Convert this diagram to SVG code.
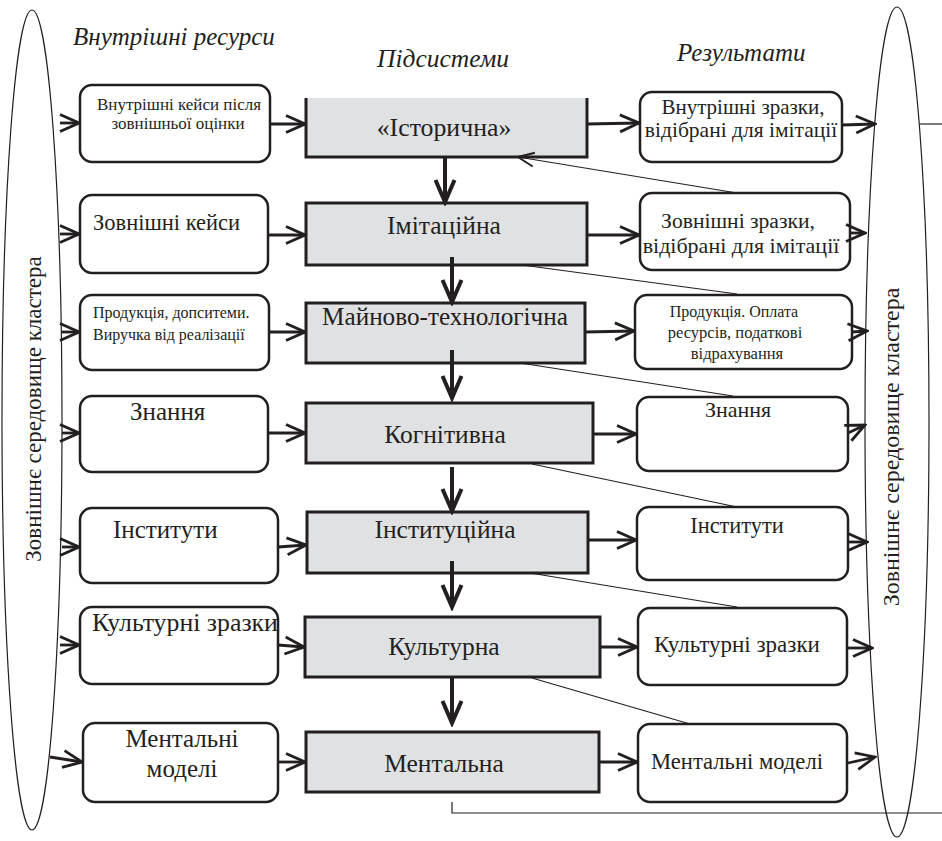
<svg xmlns="http://www.w3.org/2000/svg" width="942" height="841" viewBox="0 0 942 841">
<style>
.t{font-family:"Liberation Serif","Times New Roman",serif;fill:#231f20}
.it{font-style:italic}
.m{text-anchor:middle}
.rb{fill:#fff;stroke:#231f20;stroke-width:2.5}
.sb{fill:#e0e1e3;stroke:#231f20;stroke-width:3}
.ar{fill:none;stroke:#231f20;stroke-width:2.8;marker-end:url(#ah)}
.va{fill:none;stroke:#231f20;stroke-width:4;marker-end:url(#vh)}
.thin{fill:none;stroke:#231f20;stroke-width:1.2}
.fb{fill:none;stroke:#231f20;stroke-width:1.2;marker-end:url(#fh)}
.ell{fill:none;stroke:#231f20;stroke-width:1.2}
</style>
<defs>
<marker id="ah" viewBox="-24 -12 26 24" refX="0" refY="0" markerWidth="26" markerHeight="24" markerUnits="userSpaceOnUse" orient="auto">
<path d="M-19,-8.5 L0,0 L-19,8.5" fill="none" stroke="#231f20" stroke-width="2.8"/>
</marker>
<marker id="vh" viewBox="-26 -12 30 24" refX="0" refY="0" markerWidth="30" markerHeight="24" markerUnits="userSpaceOnUse" orient="auto">
<path d="M-22,-9.5 L0,0 L-22,9.5" fill="none" stroke="#231f20" stroke-width="4"/>
</marker>
<marker id="fh" viewBox="-20 -10 22 20" refX="0" refY="0" markerWidth="22" markerHeight="20" markerUnits="userSpaceOnUse" orient="auto">
<path d="M-16,-7 L0,0 L-16,7" fill="none" stroke="#231f20" stroke-width="2"/>
</marker>
</defs>
<rect width="942" height="841" fill="#fff"/>

<g id="env-left">
<ellipse class="ell" cx="32" cy="420" rx="30" ry="410"/>
<text class="t m" font-size="23" transform="translate(41,409) rotate(-90)">Зовнішнє середовище кластера</text>
</g>
<g id="env-right">
<ellipse class="ell" cx="897" cy="422" rx="32" ry="415"/>
<text class="t m" font-size="24" transform="translate(899,447) rotate(-90)">Зовнішнє середовище кластера</text>
</g>

<g id="titles">
<text class="t it" font-size="25" x="73" y="45">Внутрішні ресурси</text>
<text class="t it" font-size="25.5" x="377" y="67">Підсистеми</text>
<text class="t it" font-size="25" x="677" y="61">Результати</text>
</g>

<g id="in1"><rect class="rb" x="80" y="85" width="190" height="77" rx="12"/>
<text class="t m" font-size="17" x="179" y="110">Внутрішні кейси після</text>
<text class="t m" font-size="17" x="178" y="129">зовнішньої оцінки</text></g>
<g id="in2"><rect class="rb" x="80" y="195" width="188" height="78" rx="12"/>
<text class="t" font-size="22.5" x="93" y="230">Зовнішні кейси</text></g>
<g id="in3"><rect class="rb" x="80" y="295" width="189" height="75" rx="12"/>
<text class="t" font-size="16" x="93" y="318">Продукція, допситеми.</text>
<text class="t" font-size="16" x="93" y="340">Виручка від реалізації</text></g>
<g id="in4"><rect class="rb" x="80" y="396" width="188" height="76" rx="12"/>
<text class="t" font-size="25" x="130" y="420">Знання</text></g>
<g id="in5"><rect class="rb" x="80" y="508" width="198" height="75" rx="12"/>
<text class="t" font-size="25" x="113" y="538">Інститути</text></g>
<g id="in6"><rect class="rb" x="80" y="607" width="198" height="77" rx="12"/>
<text class="t" font-size="25.8" x="92" y="631">Культурні зразки</text></g>
<g id="in7"><rect class="rb" x="83" y="723" width="195" height="79" rx="12"/>
<text class="t m" font-size="25" x="182" y="747">Ментальні</text>
<text class="t m" font-size="25" x="182" y="777">моделі</text></g>

<g id="sub1"><rect x="306" y="98" width="281" height="59" fill="#e0e1e3"/>
<path d="M306,98 V157 H587 V98" fill="none" stroke="#231f20" stroke-width="3"/>
<text class="t m" font-size="25.8" x="444" y="136">«Історична»</text></g>
<g id="sub2"><rect class="sb" x="306" y="203" width="281" height="62"/>
<text class="t m" font-size="25.5" x="444" y="234">Імітаційна</text></g>
<g id="sub3"><rect class="sb" x="306" y="303" width="279" height="60"/>
<text class="t m" font-size="25.2" x="445" y="325">Майново-технологічна</text></g>
<g id="sub4"><rect class="sb" x="306" y="403" width="287" height="60"/>
<text class="t m" font-size="25.5" x="445" y="443">Когнітивна</text></g>
<g id="sub5"><rect class="sb" x="307" y="512" width="281" height="61"/>
<text class="t m" font-size="25.5" x="445" y="538">Інституційна</text></g>
<g id="sub6"><rect class="sb" x="305" y="617" width="295" height="60"/>
<text class="t m" font-size="25.5" x="444" y="655">Культурна</text></g>
<g id="sub7"><rect class="sb" x="306" y="732" width="293" height="60"/>
<text class="t m" font-size="25.5" x="444" y="772">Ментальна</text></g>

<g id="out1"><rect class="rb" x="640" y="92" width="202" height="70" rx="12"/>
<text class="t m" font-size="21" x="743" y="114">Внутрішні зразки,</text>
<text class="t m" font-size="21.5" x="741" y="137">відібрані для імітації</text></g>
<g id="out2"><rect class="rb" x="640" y="193" width="210" height="77" rx="12"/>
<text class="t m" font-size="21.6" x="738" y="228">Зовнішні зразки,</text>
<text class="t m" font-size="22" x="741" y="253">відібрані для імітації</text></g>
<g id="out3"><rect class="rb" x="635" y="295" width="217" height="74" rx="12"/>
<text class="t m" font-size="16" x="734" y="317">Продукція. Оплата</text>
<text class="t m" font-size="16.5" x="735" y="338">ресурсів, податкові</text>
<text class="t m" font-size="16.5" x="737" y="359">відрахування</text></g>
<g id="out4"><rect class="rb" x="637" y="397" width="211" height="74" rx="12"/>
<text class="t m" font-size="22" x="738" y="417">Знання</text></g>
<g id="out5"><rect class="rb" x="637" y="507" width="211" height="73" rx="12"/>
<text class="t m" font-size="22.4" x="737" y="533">Інститути</text></g>
<g id="out6"><rect class="rb" x="638" y="608" width="209" height="77" rx="12"/>
<text class="t m" font-size="23" x="737" y="652">Культурні зразки</text></g>
<g id="out7"><rect class="rb" x="638" y="724" width="209" height="78" rx="12"/>
<text class="t m" font-size="22.6" x="737" y="769">Ментальні моделі</text></g>

<g id="connectors">
<path class="ar" d="M60,123 L79,123"/>
<path class="ar" d="M60,234 L79,234"/>
<path class="ar" d="M62,332 L79,332"/>
<path class="ar" d="M62,433 L79,433"/>
<path class="ar" d="M62,547 L79,547"/>
<path class="ar" d="M60,645 L79,645"/>
<path class="ar" d="M50,757 L82,762"/>

<path class="ar" d="M270,124 L305,124"/>
<path class="ar" d="M268,235 L305,235"/>
<path class="ar" d="M269,332 L305,332"/>
<path class="ar" d="M268,433 L305,433"/>
<path class="ar" d="M278,547 L306,545"/>
<path class="ar" d="M278,645 L304,647"/>
<path class="ar" d="M278,762 L305,762"/>

<path class="ar" d="M587,124 L639,123"/>
<path class="ar" d="M587,235 L639,235"/>
<path class="ar" d="M585,332 L634,331"/>
<path class="ar" d="M593,434 L636,434"/>
<path class="ar" d="M588,540 L636,540"/>
<path class="ar" d="M600,647 L637,647"/>
<path class="ar" d="M599,762 L637,762"/>

<path class="ar" d="M842,125 L875,124"/>
<path class="ar" d="M850,233 L865,233"/>
<path class="ar" d="M852,332 L867,331"/>
<path class="ar" d="M848,433 L865,425"/>
<path class="ar" d="M848,542 L867,542"/>
<path class="ar" d="M847,648 L872,648"/>
<path class="ar" d="M848,763 L875,757"/>

<path class="va" d="M445,157 L445,202"/>
<path class="va" d="M452,257 L452,302"/>
<path class="va" d="M452,350 L452,398"/>
<path class="va" d="M452,467 L452,511"/>
<path class="va" d="M452,561 L452,607"/>
<path class="va" d="M452,678 L452,723"/>

<path class="fb" d="M737,193 L518,157"/>
<path class="thin" d="M522,265 L737,294"/>
<path class="thin" d="M520,363 L733,396"/>
<path class="thin" d="M532,464 L737,507"/>
<path class="thin" d="M530,573 L737,607"/>
<path class="thin" d="M532,678 L690,724"/>

<path class="thin" d="M920,124 H942"/>
<path class="thin" d="M452,802 V813 H942"/>
</g>
</svg>
